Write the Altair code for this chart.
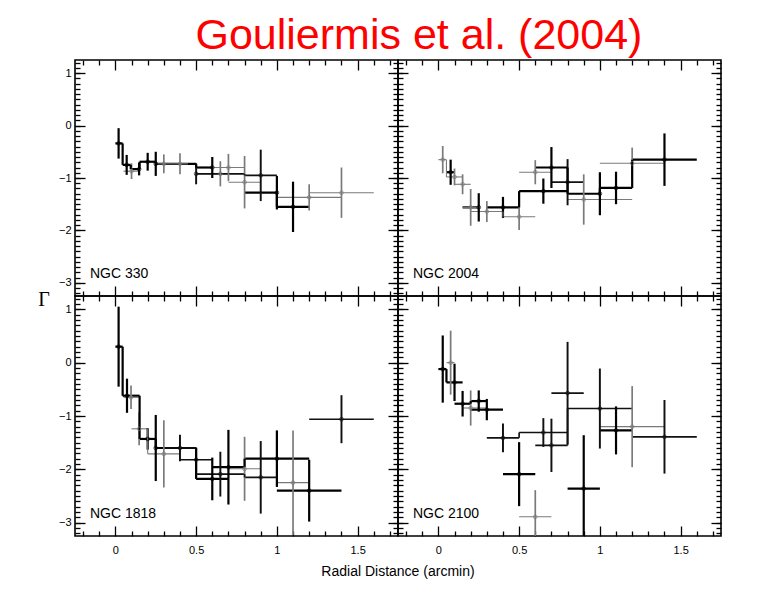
import altair as alt
import pandas as pd

# ---------------- data ----------------
# Each entry is one binned point: bin edges (LO, HI), point position X,
# slope Y and its error ERR.  STY: T = thick black, K = thin black, G = grey.

N330_LO = [0.0, 0.045, 0.095, 0.15, 0.25, 0.5, 0.8, 1.0, 0.05, 0.25, 0.35, 0.5, 0.6, 0.7, 1.0, 1.2, 0.5, 0.8]
N330_HI = [0.045, 0.095, 0.15, 0.25, 0.5, 0.6, 1.0, 1.2, 0.15, 0.35, 0.45, 0.7, 0.8, 0.9, 1.4, 1.6, 0.8, 1.0]
N330_X = [0.02, 0.07, 0.147, 0.2, 0.25, 0.6, 1.0, 1.1, 0.1, 0.3, 0.4, 0.65, 0.7, 0.8, 1.2, 1.4, 0.5, 0.9]
N330_Y = [-0.34, -0.75, -0.83, -0.69, -0.73, -0.80, -1.28, -1.55, -0.87, -0.73, -0.73, -0.92, -0.80, -1.08, -1.37, -1.28, -0.92, -0.95]
N330_ERR = [0.29, 0.19, 0.12, 0.17, 0.23, 0.2, 0.32, 0.48, 0.15, 0.18, 0.2, 0.24, 0.26, 0.5, 0.25, 0.48, 0.2, 0.49]
N330_STY = ["T"] * 8 + ["G"] * 8 + ["K"] * 2

N2004_LO = [0.05, 0.15, 0.3, 0.5, 0.6, 0.8, 1.0, 1.2, 0.0, 0.05, 0.1, 0.15, 0.2, 0.4, 0.5, 0.8, 1.0, 0.7]
N2004_HI = [0.1, 0.25, 0.5, 0.8, 0.8, 1.0, 1.2, 1.6, 0.05, 0.15, 0.2, 0.25, 0.4, 0.6, 0.7, 1.2, 1.4, 0.9]
N2004_X = [0.076, 0.25, 0.4, 0.65, 0.7, 1.0, 1.1, 1.4, 0.027, 0.1, 0.15, 0.2, 0.3, 0.5, 0.6, 0.9, 1.2, 0.8]
N2004_Y = [-0.89, -1.56, -1.56, -1.25, -0.80, -1.30, -1.19, -0.65, -0.65, -0.98, -1.12, -1.56, -1.64, -1.74, -0.89, -1.41, -0.72, -1.08]
N2004_ERR = [0.24, 0.27, 0.2, 0.24, 0.39, 0.41, 0.31, 0.5, 0.26, 0.16, 0.19, 0.35, 0.2, 0.25, 0.23, 0.48, 0.3, 0.44]
N2004_STY = ["T"] * 8 + ["G"] * 9 + ["K"]

N1818_LO = [0.0, 0.045, 0.15, 0.25, 0.5, 0.6, 0.8, 1.0, 0.05, 0.1, 0.2, 0.7, 1.0, 0.3, 0.4, 0.5, 0.8, 1.2]
N1818_HI = [0.045, 0.15, 0.25, 0.5, 0.7, 0.8, 1.2, 1.4, 0.15, 0.2, 0.4, 0.9, 1.2, 0.5, 0.6, 0.8, 1.0, 1.6]
N1818_X = [0.02, 0.072, 0.2, 0.25, 0.6, 0.7, 1.0, 1.2, 0.097, 0.147, 0.3, 0.8, 1.1, 0.4, 0.5, 0.65, 0.9, 1.4]
N1818_Y = [0.30, -0.62, -1.43, -1.60, -2.18, -1.96, -1.80, -2.40, -0.65, -1.24, -1.71, -1.99, -2.25, -1.60, -1.82, -2.09, -2.15, -1.06]
N1818_ERR = [0.75, 0.32, 0.2, 0.62, 0.4, 0.7, 0.53, 0.58, 0.22, 0.31, 0.63, 0.6, 0.98, 0.25, 0.23, 0.42, 0.68, 0.45]
N1818_STY = ["T"] * 8 + ["G"] * 5 + ["K"] * 5

N2100_LO = [0.0, 0.05, 0.1, 0.2, 0.2, 0.8, 0.4, 1.0, 0.05, 0.15, 1.0, 0.5, 0.3, 0.5, 0.6, 0.8, 0.7, 1.2]
N2100_HI = [0.05, 0.15, 0.2, 0.3, 0.4, 1.0, 0.6, 1.2, 0.1, 0.3, 1.4, 0.7, 0.5, 0.8, 0.8, 1.2, 0.9, 1.6]
N2100_X = [0.027, 0.1, 0.15, 0.25, 0.3, 0.9, 0.5, 1.1, 0.076, 0.2, 1.2, 0.6, 0.4, 0.65, 0.7, 1.0, 0.8, 1.4]
N2100_Y = [-0.12, -0.37, -0.77, -0.72, -0.88, -2.36, -2.09, -1.27, 0.0, -0.85, -1.20, -2.89, -1.41, -1.31, -1.55, -0.86, -0.57, -1.39]
N2100_ERR = [0.63, 0.35, 0.24, 0.2, 0.2, 1.0, 0.6, 0.45, 0.6, 0.33, 0.76, 0.5, 0.27, 0.27, 0.5, 0.75, 0.96, 0.69]
N2100_STY = ["T"] * 8 + ["G"] * 4 + ["K"] * 6

PANEL_NAMES = ["NGC  330", "NGC  2004", "NGC  1818", "NGC  2100"]
X_MAJOR = [0, 0.5, 1, 1.5]
X_MINOR = [-0.2, -0.1, 0.1, 0.2, 0.3, 0.4, 0.6, 0.7, 0.8, 0.9, 1.1, 1.2, 1.3, 1.4, 1.6, 1.7]
Y_MAJOR = [-3, -2, -1, 0, 1]
Y_MINOR = [round(-3.2 + 0.1 * i, 1) for i in range(45)]
X_TITLE = "Radial  Distance  (arcmin)"
Y_TITLE = "Γ"
TITLE = "Gouliermis et al. (2004)"

STYLES = ["T", "K", "G"]
COLORS = ["#000000", "#111111", "#7a7a7a"]
H_WIDTH = [2.2, 1.1, 1.5]
V_WIDTH = [2.2, 1.7, 1.3]

X_DOMAIN = [-0.25, 1.75]
Y_DOMAIN = [-3.25, 1.25]
PANEL_W = 323
FONT = "Liberation Sans"


def make_frame(lo, hi, x, y, err, sty):
    df = pd.DataFrame({"lo": lo, "hi": hi, "x": x, "y": y, "err": err, "style": sty})
    df["ylo"] = df["y"] - df["err"]
    df["yhi"] = df["y"] + df["err"]
    return df


def make_steps(df):
    rows = []
    for i in range(len(df) - 1):
        a, b = df.iloc[i], df.iloc[i + 1]
        if a["style"] == b["style"] and abs(a["hi"] - b["lo"]) < 1e-9:
            rows.append({"x": a["hi"], "y1": a["y"], "y2": b["y"], "style": a["style"]})
    return pd.DataFrame(rows, columns=["x", "y1", "y2", "style"])


def x_axis(orient, minor, labels):
    size = 5 if minor else 10
    return alt.Axis(orient=orient, values=X_MINOR if minor else X_MAJOR, tickSize=size,
                    offset=-size, domain=False, grid=False, labels=labels, title=None,
                    format="~g", labelPadding=8, labelFont=FONT, labelFontSize=11,
                    labelColor="black", tickColor="black", tickWidth=1.3)


def y_axis(orient, minor, labels):
    size = 5 if minor else 10
    return alt.Axis(orient=orient, values=Y_MINOR if minor else Y_MAJOR, tickSize=size,
                    offset=-size, domain=False, grid=False, labels=labels, title=None,
                    format="~g", labelPadding=4, labelFont=FONT, labelFontSize=11,
                    labelColor="black", tickColor="black", tickWidth=1.3)


def panel(df, name, left, bottom, height, extra_texts):
    xs = alt.Scale(domain=X_DOMAIN, nice=False, zero=False)
    ys = alt.Scale(domain=Y_DOMAIN, nice=False, zero=False)
    col = alt.Color("style:N", scale=alt.Scale(domain=STYLES, range=COLORS), legend=None)
    steps = make_steps(df)

    bars = alt.Chart(df).mark_rule(clip=True).encode(
        x=alt.X("lo:Q", scale=xs, axis=x_axis("bottom", False, bottom)),
        x2="hi:Q",
        y=alt.Y("y:Q", scale=ys, axis=y_axis("left", False, left)),
        color=col,
        strokeWidth=alt.StrokeWidth("style:N", scale=alt.Scale(domain=STYLES, range=H_WIDTH), legend=None),
    )
    errs = alt.Chart(df).mark_rule(clip=True).encode(
        x=alt.X("x:Q", scale=xs, axis=x_axis("top", False, False)),
        y=alt.Y("ylo:Q", scale=ys, axis=y_axis("right", False, False)),
        y2="yhi:Q",
        color=col,
        strokeWidth=alt.StrokeWidth("style:N", scale=alt.Scale(domain=STYLES, range=V_WIDTH), legend=None),
    )
    conn = alt.Chart(steps).mark_rule(clip=True).encode(
        x=alt.X("x:Q", scale=xs, axis=x_axis("bottom", True, False)),
        y=alt.Y("y1:Q", scale=ys, axis=y_axis("left", True, False)),
        y2="y2:Q",
        color=col,
        strokeWidth=alt.StrokeWidth("style:N", scale=alt.Scale(domain=STYLES, range=H_WIDTH), legend=None),
    )
    pts = alt.Chart(df).mark_point(shape="circle", size=14, filled=False, strokeWidth=1, clip=True).encode(
        x=alt.X("x:Q", scale=xs, axis=x_axis("top", True, False)),
        y=alt.Y("y:Q", scale=ys, axis=y_axis("right", True, False)),
        color=col,
    )
    label = alt.Chart(pd.DataFrame({"t": [name]})).mark_text(
        align="left", baseline="alphabetic", font=FONT, fontSize=14, color="black"
    ).encode(x=alt.value(15), y=alt.value(height - 18), text="t:N")

    return alt.layer(bars, errs, conn, pts, label, *extra_texts).resolve_axis(
        x="independent", y="independent"
    ).resolve_scale(strokeWidth="independent").properties(width=PANEL_W, height=height)


gamma = alt.Chart(pd.DataFrame({"t": [Y_TITLE]})).mark_text(
    align="center", baseline="alphabetic", font="Liberation Serif", fontSize=20, color="black"
).encode(x=alt.value(-31), y=alt.value(246), text="t:N")

xtitle = alt.Chart(pd.DataFrame({"t": [X_TITLE]})).mark_text(
    align="center", baseline="alphabetic", font=FONT, fontSize=14, color="black"
).encode(x=alt.value(PANEL_W), y=alt.value(280), text="t:N")

d330 = make_frame(N330_LO, N330_HI, N330_X, N330_Y, N330_ERR, N330_STY)
d2004 = make_frame(N2004_LO, N2004_HI, N2004_X, N2004_Y, N2004_ERR, N2004_STY)
d1818 = make_frame(N1818_LO, N1818_HI, N1818_X, N1818_Y, N1818_ERR, N1818_STY)
d2100 = make_frame(N2100_LO, N2100_HI, N2100_X, N2100_Y, N2100_ERR, N2100_STY)

p1 = panel(d330, PANEL_NAMES[0], True, False, 236, [gamma])
p2 = panel(d2004, PANEL_NAMES[1], False, False, 236, [])
p3 = panel(d1818, PANEL_NAMES[2], True, True, 240, [xtitle])
p4 = panel(d2100, PANEL_NAMES[3], False, True, 240, [])

chart = alt.concat(p1, p2, p3, p4, columns=2, spacing=0, bounds="flush").properties(
    title=alt.TitleParams(TITLE, font=FONT, fontSize=43, fontWeight="normal", color="#ff0000",
                          anchor="middle", dx=39, offset=1),
    padding={"left": 37, "top": 14, "right": 0, "bottom": 0},
    background="white",
).configure_view(stroke="black", strokeWidth=1.6)

chart.save("out.html", embed_options={"renderer": "svg", "actions": False})
